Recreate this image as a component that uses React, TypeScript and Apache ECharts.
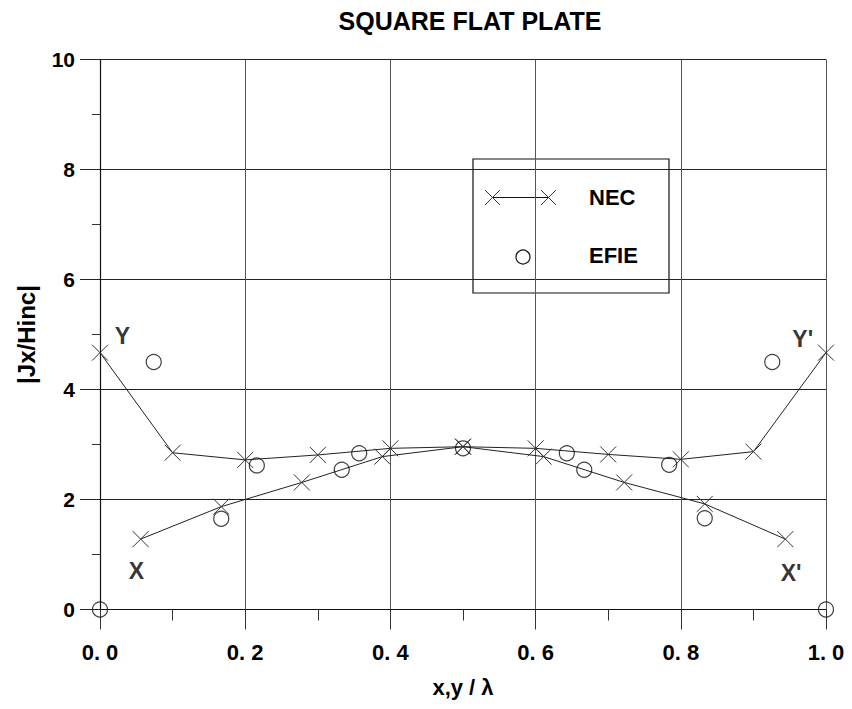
import React, { useEffect, useRef } from "react";
import * as echarts from "echarts";

const titleText = "SQUARE FLAT PLATE";
const xAxisName = "x,y / λ";
const yAxisName = "|Jx/Hinc|";

// NEC along Y-Y' cut
const necYx = [0.0, 0.1, 0.2, 0.3, 0.4, 0.5, 0.6, 0.7, 0.8, 0.9, 1.0];
const necYv = [4.67, 2.85, 2.72, 2.81, 2.93, 2.96, 2.93, 2.82, 2.73, 2.87, 4.67];
// NEC along X-X' cut
const necXx = [0.056, 0.167, 0.278, 0.389, 0.5, 0.611, 0.722, 0.833, 0.944];
const necXv = [1.28, 1.87, 2.31, 2.78, 2.96, 2.78, 2.31, 1.92, 1.28];
// EFIE
const efieX = [0.0, 0.074, 0.167, 0.216, 0.333, 0.357, 0.5, 0.643, 0.667, 0.784, 0.833, 0.926, 1.0];
const efieV = [0.0, 4.5, 1.65, 2.62, 2.54, 2.84, 2.93, 2.84, 2.54, 2.63, 1.66, 4.5, 0.0];
// Curve annotations
const noteText = ["Y", "X", "Y'", "X'"];
const noteX = [0.031, 0.05, 0.968, 0.952];
const noteY = [4.98, 0.7, 4.92, 0.66];

const FONT = "'Liberation Sans', Arial, Helvetica, sans-serif";
const CROSS = "path://M0,0L10,10M10,0L0,10";

export default function App() {
  const ref = useRef<HTMLDivElement>(null);
  useEffect(() => {
    if (!ref.current) return;
    const chart = echarts.init(ref.current, null, { renderer: "svg" });
    const zip = (a: number[], b: number[]) => a.map((v, i) => [v, b[i]]);
    const crossStyle = {
      color: "transparent",
      borderColor: "#333",
      borderWidth: 1,
    };
    chart.setOption({
      animation: false,
      backgroundColor: "#fff",
      title: {
        text: titleText,
        left: 465,
        top: 3,
        textAlign: "center",
        textStyle: { fontFamily: FONT, fontSize: 25, fontWeight: "bold", color: "#000" },
      },
      grid: { left: 100, right: 26, top: 59.5, bottom: 99.5, containLabel: false },
      xAxis: {
        type: "value",
        min: 0,
        max: 1,
        interval: 0.2,
        name: xAxisName,
        nameLocation: "middle",
        nameGap: 67,
        nameTextStyle: { fontFamily: FONT, fontSize: 22, fontWeight: "bold", color: "#000" },
        axisLine: { show: true, lineStyle: { color: "#111", width: 1.2 } },
        axisTick: { show: true, length: 20, lineStyle: { color: "#333" } },
        minorTick: { show: true, splitNumber: 2, length: 11, lineStyle: { color: "#333" } },
        splitLine: { show: true, lineStyle: { color: "#555", width: 1 } },
        axisLabel: {
          margin: 32,
          fontFamily: FONT,
          fontSize: 22,
          fontWeight: "bold",
          color: "#000",
          formatter: (v: number) => v.toFixed(1).replace(".", ". "),
        },
      },
      yAxis: {
        type: "value",
        min: 0,
        max: 10,
        interval: 2,
        name: yAxisName,
        nameLocation: "middle",
        nameGap: 62,
        nameTextStyle: { fontFamily: FONT, fontSize: 24, fontWeight: "bold", color: "#000" },
        axisLine: { show: true, lineStyle: { color: "#111", width: 1.2 } },
        axisTick: { show: true, length: 20, lineStyle: { color: "#222" } },
        minorTick: { show: true, splitNumber: 2, length: 8, lineStyle: { color: "#333" } },
        splitLine: { show: true, lineStyle: { color: "#222", width: 1.2 } },
        axisLabel: {
          margin: 25,
          fontFamily: FONT,
          fontSize: 21,
          fontWeight: "bold",
          color: "#000",
        },
      },
      series: [
        {
          type: "line",
          data: zip(necYx, necYv),
          symbol: CROSS,
          symbolSize: 16,
          itemStyle: crossStyle,
          lineStyle: { color: "#222", width: 1 },
          z: 3,
        },
        {
          type: "line",
          data: zip(necXx, necXv),
          symbol: CROSS,
          symbolSize: 16,
          itemStyle: crossStyle,
          lineStyle: { color: "#222", width: 1 },
          z: 3,
        },
        {
          type: "scatter",
          data: zip(efieX, efieV),
          symbol: "circle",
          symbolSize: 15,
          itemStyle: { color: "transparent", borderColor: "#111", borderWidth: 1.2 },
          z: 4,
        },
        {
          type: "scatter",
          data: noteText.map((t, i) => ({ value: [noteX[i], noteY[i]], name: t })),
          symbolSize: 0,
          label: {
            show: true,
            position: "inside",
            formatter: (p: any) => p.name,
            fontFamily: FONT,
            fontSize: 23,
            fontWeight: "bold",
            color: "#000",
          },
          z: 5,
        },
      ],
      graphic: [
        {
          type: "group",
          z: 100,
          children: [
            {
              type: "rect",
              shape: { x: 473, y: 159, width: 196, height: 134 },
              style: { fill: "#fff", stroke: "#111", lineWidth: 1.2 },
            },
            {
              type: "line",
              shape: { x1: 493, y1: 197.5, x2: 548, y2: 197.5 },
              style: { stroke: "#111", lineWidth: 1.2 },
            },
            { type: "line", shape: { x1: 485, y1: 190, x2: 500, y2: 205 }, style: { stroke: "#333", lineWidth: 1 } },
            { type: "line", shape: { x1: 485, y1: 205, x2: 500, y2: 190 }, style: { stroke: "#333", lineWidth: 1 } },
            { type: "line", shape: { x1: 541, y1: 190, x2: 556, y2: 205 }, style: { stroke: "#333", lineWidth: 1 } },
            { type: "line", shape: { x1: 541, y1: 205, x2: 556, y2: 190 }, style: { stroke: "#333", lineWidth: 1 } },
            {
              type: "text",
              x: 589,
              y: 197.5,
              style: {
                text: "NEC",
                font: `bold 22px ${FONT}`,
                fill: "#000",
                verticalAlign: "middle",
              },
            },
            {
              type: "circle",
              shape: { cx: 523, cy: 257, r: 7 },
              style: { fill: "transparent", stroke: "#111", lineWidth: 1.2 },
            },
            {
              type: "text",
              x: 589,
              y: 255,
              style: {
                text: "EFIE",
                font: `bold 22px ${FONT}`,
                fill: "#000",
                verticalAlign: "middle",
              },
            },
          ],
        },
      ],
    });
    return () => chart.dispose();
  }, []);
  return <div ref={ref} style={{ width: 852, height: 709, position: "absolute", left: 0, top: 0 }} />;
}
